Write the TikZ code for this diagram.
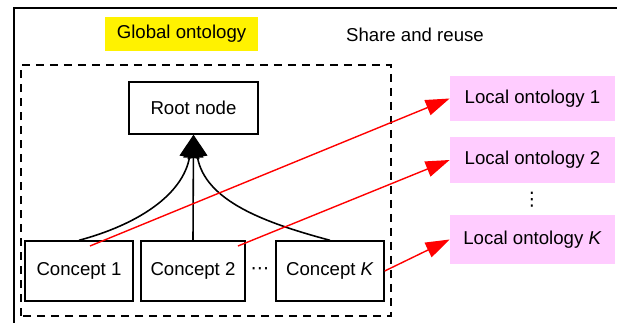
\documentclass[tikz,border=0pt]{standalone}
\usepackage{fontspec}
\setmainfont{Liberation Sans}
\newfontfamily\symfont{DejaVu Sans}
\usetikzlibrary{arrows.meta}
\definecolor{localpink}{HTML}{FFCCFF}
\tikzset{
  box/.style={draw, line width=0.8pt, minimum height=1.2cm, inner sep=0pt},
  localbox/.style={fill=localpink, minimum width=3.3cm, inner sep=0pt},
  share/.style={-{Triangle[length=0.48cm,width=0.32cm]}, red, line width=0.8pt},
  isa/.style={-{Triangle[length=0.46cm,width=0.40cm]}, line width=0.9pt},
}
\begin{document}
\begin{tikzpicture}[font=\fontsize{10.6}{12.7}\selectfont]
    \useasboundingbox (0,0) rectangle (12.34,6.46);
    \draw[line width=1.4pt] (0.28,0) -- (0.28,6.30) -- (12.34,6.30);  % frame
    \node (global) at (3.63,5.78) [fill=yellow, minimum width=3.06cm, minimum height=0.68cm] {Global ontology};
    \node (share) at (8.30,5.76) {Share and reuse};
    \draw[line width=0.8pt, dash pattern=on 0.16cm off 0.12cm] (0.42,0.14) rectangle (7.82,5.16);  % global part
    \node (root) at (3.87,4.30) [box, minimum width=2.58cm, minimum height=1.04cm] {Root node};
    \node (c1) at (1.58,1.04) [box, minimum width=2.16cm] {Concept 1};
    \node (c2) at (3.86,1.04) [box, minimum width=2.08cm] {Concept 2};
    \node (dots) at (5.20,1.04) [inner sep=0pt] {\symfont ⋯};
    \node (cK) at (6.60,1.04) [box, minimum width=2.16cm] {Concept \textit{K}};
    \node (l1) at (10.65,4.49) [localbox, minimum height=0.90cm] {Local ontology 1};
    \node (l2) at (10.65,3.26) [localbox, minimum height=0.92cm] {Local ontology 2};
    \node (vdots) at (10.64,2.46) [inner sep=0pt] {\symfont ⋮};
    \node (lK) at (10.65,1.67) [localbox, minimum height=0.98cm] {Local ontology \textit{K}};
    \draw[isa] (c1.north) to[out=15,in=-100] (root.south);  % 1 -- root
    \draw[isa] (c2.north) -- (root.south);                   % 2 -- root
    \draw[isa] (cK.north) to[out=165,in=-80] (root.south);  % K -- root
    \coordinate (s1) at (1.80,1.54);
    \coordinate (s2) at (4.76,1.54);
    \draw[share] (s1) -- (l1.west);  % 1 -- local 1
    \draw[share] (s2) -- (l2.west);  % 2 -- local 2
    \draw[share] (cK.east) -- (lK.west);  % K -- local K
  \end{tikzpicture}
\end{document}
